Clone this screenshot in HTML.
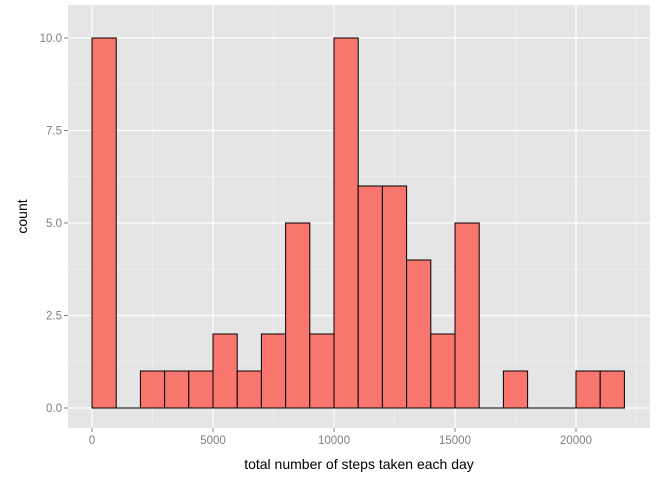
<!DOCTYPE html>
<html><head><meta charset="utf-8"><style>
body{margin:0;background:#fff;font-family:"Liberation Sans",Arial,sans-serif}
svg text{font-family:"Liberation Sans",Arial,sans-serif}
</style></head><body>
<svg id="c" width="672" height="480" xmlns="http://www.w3.org/2000/svg"></svg>
<script>
const binStarts=[0,1000,2000,3000,4000,5000,6000,7000,8000,9000,10000,11000,12000,13000,14000,15000,16000,17000,18000,19000,20000,21000];
const counts=[10,0,1,1,1,2,1,2,5,2,10,6,6,4,2,5,0,1,0,0,1,1];
const binWidth=1000;
const xTicks=[0,5000,10000,15000,20000];
const yTicks=[0,2.5,5,7.5,10];
const yTickLabels=["0.0","2.5","5.0","7.5","10.0"];
const NS="http://www.w3.org/2000/svg";
const svg=document.getElementById('c');
const P={l:68,r:650,t:5,b:428};
const X=v=>92+v*(121/5000);
const Y=v=>408-v*37;
function mk(t,a,p){const e=document.createElementNS(NS,t);for(const k in a)e.setAttribute(k,a[k]);(p||svg).appendChild(e);return e;}
const panel=mk('rect',{x:P.l,y:P.t,width:P.r-P.l,height:P.b-P.t,fill:'#e5e5e5'});


for(let i=0;i<xTicks.length;i++){const v=xTicks[i]+2500;if(X(v)<P.r){const g=mk('line',{x1:X(v),x2:X(v),y1:P.t,y2:P.b,stroke:'#f2f2f2','stroke-width':0.6});}}
for(let i=0;i<yTicks.length;i++){const v=yTicks[i]+1.25;if(Y(v)>P.t){const g=mk('line',{x1:P.l,x2:P.r,y1:Y(v),y2:Y(v),stroke:'#f2f2f2','stroke-width':0.6});}}
xTicks.forEach(v=>{const g=mk('line',{x1:X(v),x2:X(v),y1:P.t,y2:P.b,stroke:'#fff','stroke-width':1.2});
mk('line',{x1:X(v),x2:X(v),y1:P.b,y2:P.b+4,stroke:'#7f7f7f'});
const t=mk('text',{x:X(v),y:P.b+16,'text-anchor':'middle','font-size':11.5,fill:'#7f7f7f'});t.textContent=v;});
yTicks.forEach((v,i)=>{const g=mk('line',{x1:P.l,x2:P.r,y1:Y(v),y2:Y(v),stroke:'#fff','stroke-width':1.2});
mk('line',{x1:P.l-4,x2:P.l,y1:Y(v),y2:Y(v),stroke:'#7f7f7f'});
const t=mk('text',{x:P.l-6,y:Y(v)+4,'text-anchor':'end','font-size':11.5,fill:'#7f7f7f'});t.textContent=yTickLabels[i];});
binStarts.forEach((s,i)=>{const x0=X(s),x1=X(s+binWidth),y0=Y(0),y1=Y(counts[i]);
const r=mk('path',{d:`M${x0},${y0}L${x0},${y1}L${x1},${y1}L${x1},${y0}Z`,fill:'#f8766d',stroke:'#000','stroke-width':1});

});
const xt=mk('text',{x:(P.l+P.r)/2,y:469,'text-anchor':'middle','font-size':14,fill:'#000'});xt.textContent='total number of steps taken each day';


const yt=mk('text',{x:0,y:0,'text-anchor':'middle','font-size':14,fill:'#000',transform:`translate(27,${(P.t+P.b)/2}) rotate(-90)`});yt.textContent='count';


</script>
</body></html>
